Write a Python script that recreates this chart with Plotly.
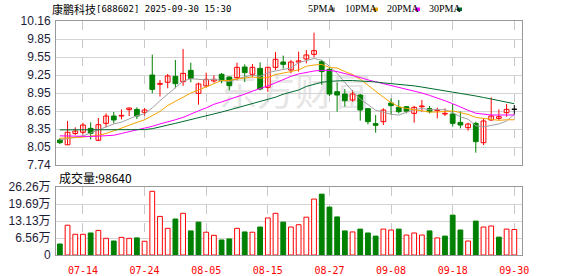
import plotly.graph_objects as go
import numpy as np

# ---------------- data ----------------
dates = [
    "2025-07-09", "2025-07-10", "2025-07-11", "2025-07-14", "2025-07-15", "2025-07-16", "2025-07-17",
    "2025-07-18", "2025-07-21", "2025-07-22", "2025-07-23", "2025-07-24", "2025-07-25", "2025-07-28",
    "2025-07-29", "2025-07-30", "2025-07-31", "2025-08-01", "2025-08-04", "2025-08-05", "2025-08-06",
    "2025-08-07", "2025-08-08", "2025-08-11", "2025-08-12", "2025-08-13", "2025-08-14", "2025-08-15",
    "2025-08-18", "2025-08-19", "2025-08-20", "2025-08-21", "2025-08-22", "2025-08-25", "2025-08-26",
    "2025-08-27", "2025-08-28", "2025-08-29", "2025-09-01", "2025-09-02", "2025-09-03", "2025-09-04",
    "2025-09-05", "2025-09-08", "2025-09-09", "2025-09-10", "2025-09-11", "2025-09-12", "2025-09-15",
    "2025-09-16", "2025-09-17", "2025-09-18", "2025-09-19", "2025-09-22", "2025-09-23", "2025-09-24",
    "2025-09-25", "2025-09-26", "2025-09-29", "2025-09-30",
]
opens = [8.16, 8.08, 8.27, 8.29, 8.356, 8.155, 8.44, 8.563, 8.563, 8.67,
         8.675, 8.625, 9.252, 9.096, 9.13, 9.23, 9.14, 9.331, 8.944, 9.068,
         9.152, 9.264, 9.219, 9.208, 9.387, 9.264, 9.364, 9.045, 9.381, 9.471,
         9.336, 9.47, 9.521, 9.60, 9.477, 9.348, 8.972, 8.933, 8.832, 8.916,
         8.687, 8.435, 8.468, 8.782, 8.709, 8.72, 8.608, 8.72, 8.687, 8.653,
         8.597, 8.597, 8.457, 8.367, 8.44, 8.115, 8.496, 8.524, 8.619, 8.675]
closes = [8.115, 8.29, 8.311, 8.412, 8.272, 8.418, 8.563, 8.496, 8.574, 8.698,
          8.563, 8.664, 9.011, 9.112, 9.236, 9.107, 9.28, 9.196, 9.101, 9.18,
          9.18, 9.157, 9.073, 9.381, 9.292, 9.381, 9.017, 9.381, 9.516, 9.432,
          9.471, 9.49, 9.589, 9.662, 9.309, 8.933, 8.916, 8.821, 8.933, 8.664,
          8.468, 8.407, 8.664, 8.737, 8.636, 8.645, 8.709, 8.732, 8.636, 8.664,
          8.608, 8.44, 8.412, 8.429, 8.132, 8.48, 8.563, 8.552, 8.675, 8.675]
highs = [8.19, 8.48, 8.373, 8.45, 8.457, 8.53, 8.608, 8.63, 8.675, 8.704,
         8.709, 8.698, 9.594, 9.17, 9.27, 9.505, 9.69, 9.46, 9.124, 9.292,
         9.247, 9.286, 9.224, 9.46, 9.432, 9.437, 9.466, 9.393, 9.639, 9.578,
         9.505, 9.645, 9.673, 9.964, 9.505, 9.381, 9.124, 9.017, 9.0, 8.933,
         8.687, 8.58, 8.692, 8.86, 8.832, 8.72, 8.732, 8.832, 8.732, 8.704,
         8.692, 8.765, 8.64, 8.451, 8.468, 8.524, 8.877, 8.675, 8.765, 8.748]
lows = [8.09, 8.08, 8.244, 8.255, 8.17, 8.143, 8.373, 8.44, 8.507, 8.563,
        8.513, 8.57, 8.944, 8.89, 9.03, 9.03, 9.07, 9.13, 8.754, 9.04,
        9.124, 9.113, 8.995, 9.163, 9.135, 9.213, 8.995, 8.967, 9.336, 9.359,
        9.28, 9.309, 9.449, 9.55, 9.084, 8.90, 8.636, 8.72, 8.804, 8.485,
        8.423, 8.283, 8.412, 8.597, 8.608, 8.608, 8.451, 8.636, 8.608, 8.524,
        8.563, 8.384, 8.356, 8.317, 7.947, 8.076, 8.485, 8.496, 8.552, 8.59]
volumes = [4.25, 11.5, 8.0, 8.0, 8.5, 9.5, 6.45, 5.4, 6.8, 6.45,
           6.6, 5.3, 24.6, 14.9, 10.3, 13.9, 16.1, 9.3, 12.7, 8.8,
           7.6, 5.8, 6.2, 10.3, 8.9, 8.8, 10.8, 14.3, 16.1, 12.7,
           10.8, 11.7, 14.6, 21.6, 23.5, 18.5, 14.7, 9.3, 8.9, 10.0,
           8.5, 7.3, 10.0, 9.65, 10.0, 7.7, 8.5, 7.7, 9.3, 6.6,
           7.3, 15.4, 9.65, 5.4, 13.1, 10.8, 11.2, 6.9, 10.0, 9.864]
prev_close_before = 8.18

ma5 = [8.16, 8.18, 8.20, 8.23, 8.28, 8.33, 8.39, 8.43, 8.46, 8.52,
       8.57, 8.60, 8.70, 8.82, 8.93, 9.04, 9.15, 9.19, 9.18, 9.17,
       9.18, 9.16, 9.14, 9.19, 9.22, 9.25, 9.23, 9.29, 9.32, 9.35,
       9.37, 9.46, 9.50, 9.53, 9.50, 9.40, 9.28, 9.13, 8.98, 8.85,
       8.76, 8.66, 8.63, 8.59, 8.58, 8.62, 8.67, 8.69, 8.67, 8.67,
       8.67, 8.62, 8.55, 8.51, 8.40, 8.38, 8.40, 8.43, 8.48, 8.59]
ma10 = [8.19, 8.19, 8.20, 8.21, 8.22, 8.24, 8.27, 8.31, 8.36, 8.41,
        8.46, 8.50, 8.57, 8.64, 8.74, 8.81, 8.88, 8.95, 9.00, 9.05,
        9.11, 9.16, 9.16, 9.19, 9.20, 9.22, 9.20, 9.21, 9.26, 9.28,
        9.31, 9.34, 9.40, 9.42, 9.43, 9.38, 9.37, 9.31, 9.26, 9.18,
        9.08, 8.97, 8.88, 8.79, 8.72, 8.69, 8.67, 8.66, 8.63, 8.63,
        8.64, 8.65, 8.62, 8.59, 8.54, 8.52, 8.51, 8.49, 8.50, 8.50]
ma20 = [8.23, 8.225, 8.22, 8.22, 8.22, 8.225, 8.23, 8.24, 8.27, 8.30,
        8.32, 8.35, 8.39, 8.43, 8.46, 8.50, 8.54, 8.60, 8.65, 8.70,
        8.76, 8.80, 8.84, 8.88, 8.93, 8.98, 9.02, 9.07, 9.12, 9.18,
        9.23, 9.27, 9.30, 9.32, 9.33, 9.33, 9.31, 9.28, 9.24, 9.21,
        9.17, 9.14, 9.11, 9.08, 9.05, 9.02, 8.99, 8.95, 8.91, 8.87,
        8.82, 8.77, 8.71, 8.66, 8.61, 8.59, 8.58, 8.58, 8.58, 8.58]
ma30 = [8.33, 8.33, 8.33, 8.33, 8.33, 8.33, 8.33, 8.33, 8.33, 8.33,
        8.33, 8.335, 8.35, 8.375, 8.41, 8.44, 8.47, 8.50, 8.53, 8.56,
        8.60, 8.63, 8.665, 8.70, 8.73, 8.765, 8.80, 8.84, 8.88, 8.93,
        8.97, 9.00, 9.06, 9.10, 9.13, 9.145, 9.155, 9.16, 9.16, 9.155,
        9.145, 9.135, 9.12, 9.11, 9.10, 9.085, 9.07, 9.05, 9.03, 9.01,
        8.99, 8.97, 8.95, 8.93, 8.90, 8.875, 8.85, 8.82, 8.79, 8.77]

price_tick_text = ["7.74", "8.05", "8.35", "8.65", "8.95", "9.25", "9.55", "9.85", "10.16"]
vol_tick_text = ["0", "6.56万", "13.13万", "19.69万", "26.26万"]
label_dates = ["07-14", "07-24", "08-05", "08-15", "08-27", "09-08", "09-18", "09-30"]
title_name = "康鹏科技"
title_rest = "[688602] 2025-09-30 15:30"
vol_title = "成交量:98640"
ma_names = ["5PMA", "10PMA", "20PMA", "30PMA"]

# ---------------- layout helpers ----------------
W, H = 578, 276
L, R, T, B = 56, 522, 21, 255
PRICE_BOTTOM, VOL_TOP = 165, 187


def xp(px):
    return (px - L) / (R - L)


def yp(py):
    return (B - py) / (B - T)


RED = "#ff0000"
GREEN = "#008000"
BLACK = "#000000"
MA_COLORS = ["#a0a0a0", "#f5a300", "#ff00ff", "#006b2e"]

n = len(dates)
idx = list(range(n))
tick_idx = [dates.index("2025-" + d) for d in label_dates]

fig = go.Figure()

# ---------------- candles ----------------
groups = {RED: [], GREEN: [], BLACK: []}
for i in idx:
    o, c = opens[i], closes[i]
    col = RED if c > o else (GREEN if c < o else BLACK)
    groups[col].append(i)

fills = {RED: "#ffffff", GREEN: GREEN, BLACK: BLACK}
for col, members in groups.items():
    if not members:
        continue
    wx, wy = [], []
    for i in members:
        wx += [i, i, None]
        wy += [lows[i], highs[i], None]
    fig.add_trace(go.Scatter(x=wx, y=wy, mode="lines", line=dict(color=col, width=1),
                             xaxis="x", yaxis="y", hoverinfo="skip"))
for col, members in groups.items():
    if not members:
        continue
    base = [min(opens[i], closes[i]) for i in members]
    hgt = [max(abs(closes[i] - opens[i]), 0.004) for i in members]
    fig.add_trace(go.Bar(x=members, y=hgt, base=base, width=0.62,
                         marker=dict(color=fills[col], line=dict(color=col, width=1)),
                         xaxis="x", yaxis="y", hoverinfo="skip"))

# ---------------- moving averages ----------------
for vals, colr in zip([ma5, ma10, ma20, ma30], MA_COLORS):
    fig.add_trace(go.Scatter(x=idx, y=vals, mode="lines", line=dict(color=colr, width=1),
                             xaxis="x", yaxis="y", hoverinfo="skip"))

# ---------------- volume ----------------
up_i, dn_i = [], []
for i in idx:
    pc = closes[i - 1] if i > 0 else prev_close_before
    (up_i if closes[i] >= pc else dn_i).append(i)
fig.add_trace(go.Bar(x=up_i, y=[volumes[i] for i in up_i], width=0.62,
                     marker=dict(color="#ffffff", line=dict(color=RED, width=1)),
                     xaxis="x2", yaxis="y2", hoverinfo="skip"))
fig.add_trace(go.Bar(x=dn_i, y=[volumes[i] for i in dn_i], width=0.62,
                     marker=dict(color=GREEN, line=dict(color=GREEN, width=1)),
                     xaxis="x2", yaxis="y2", hoverinfo="skip"))

# ---------------- axes ----------------
axis_common = dict(showline=True, mirror=True, linecolor="#999999", linewidth=1,
                   zeroline=False, ticks="", automargin=False)
xr = [-0.5, n]
fig.update_layout(
    width=W, height=H,
    margin=dict(l=L, r=W - R, t=T, b=H - B, pad=0, autoexpand=False),
    paper_bgcolor="white", plot_bgcolor="white",
    showlegend=False, barmode="overlay", hovermode=False,
    xaxis=dict(domain=[0, 1], anchor="y", range=xr, tickvals=tick_idx, showticklabels=False,
               showgrid=True, gridcolor="#c8c8c8", griddash="dash", gridwidth=1, **axis_common),
    yaxis=dict(domain=[yp(PRICE_BOTTOM), 1], anchor="x", range=[7.74, 10.16],
               tickvals=list(np.linspace(7.74, 10.16, len(price_tick_text))), ticktext=price_tick_text,
               showgrid=True, gridcolor="#d4d4d4", gridwidth=1,
               tickfont=dict(family="Liberation Sans", size=12, color="#1c1c38"),
               ticklabelstandoff=2, **axis_common),
    xaxis2=dict(domain=[0, 1], anchor="y2", range=xr, matches="x", tickvals=tick_idx, ticktext=label_dates,
                showgrid=True, gridcolor="#c8c8c8", griddash="dash", gridwidth=1,
                tickfont=dict(family="DejaVu Sans Mono", size=10, color=RED),
                ticklabelstandoff=6, **axis_common),
    yaxis2=dict(domain=[0, yp(VOL_TOP)], anchor="x2", range=[0, 26.26],
                tickvals=list(np.linspace(0, 26.26, len(vol_tick_text))), ticktext=vol_tick_text,
                showgrid=True, gridcolor="#d4d4d4", gridwidth=1,
                tickfont=dict(family="Liberation Sans, Noto Sans CJK SC", size=12, color="#1c1c38"),
                ticklabelstandoff=2, **axis_common),
)

# watermark
fig.add_shape(type="rect", xref="paper", yref="paper", x0=xp(205), x1=xp(385), y0=yp(114), y1=yp(74),
              line=dict(width=0), fillcolor="rgba(0,0,0,0)", layer="below",
              label=dict(text="东方财富", textposition="middle center",
                         font=dict(family="Noto Sans CJK SC", size=38, color="#e6e6e6")))

# header
fig.add_annotation(xref="paper", yref="paper", x=xp(50), y=yp(9), text=title_name, showarrow=False,
                   xanchor="left", yanchor="middle",
                   font=dict(family="Noto Sans CJK SC", size=11, color="#000000"))
fig.add_annotation(xref="paper", yref="paper", x=xp(94), y=yp(9), text=title_rest, showarrow=False,
                   xanchor="left", yanchor="middle",
                   font=dict(family="DejaVu Sans Mono", size=9, color="#000000"))

# MA legend
leg_text_x = [306, 343, 385, 427]
leg_box_x = [330, 373, 415, 457]
for name, tx, bx, colr in zip(ma_names, leg_text_x, leg_box_x, MA_COLORS):
    fig.add_annotation(xref="paper", yref="paper", x=xp(tx), y=yp(9), text=name, showarrow=False,
                       xanchor="left", yanchor="middle",
                       font=dict(family="Liberation Serif", size=10, color="#000000"))
    fig.add_shape(type="rect", xref="paper", yref="paper", x0=xp(bx), x1=xp(bx + 5),
                  y0=yp(11), y1=yp(7.5), line=dict(width=0), fillcolor=colr)

# volume title
fig.add_annotation(xref="paper", yref="paper", x=xp(57), y=yp(177), text=vol_title, showarrow=False,
                   xanchor="left", yanchor="middle",
                   font=dict(family="Noto Sans CJK SC, Liberation Sans", size=12, color="#000000"))

fig.write_html("out.html")
